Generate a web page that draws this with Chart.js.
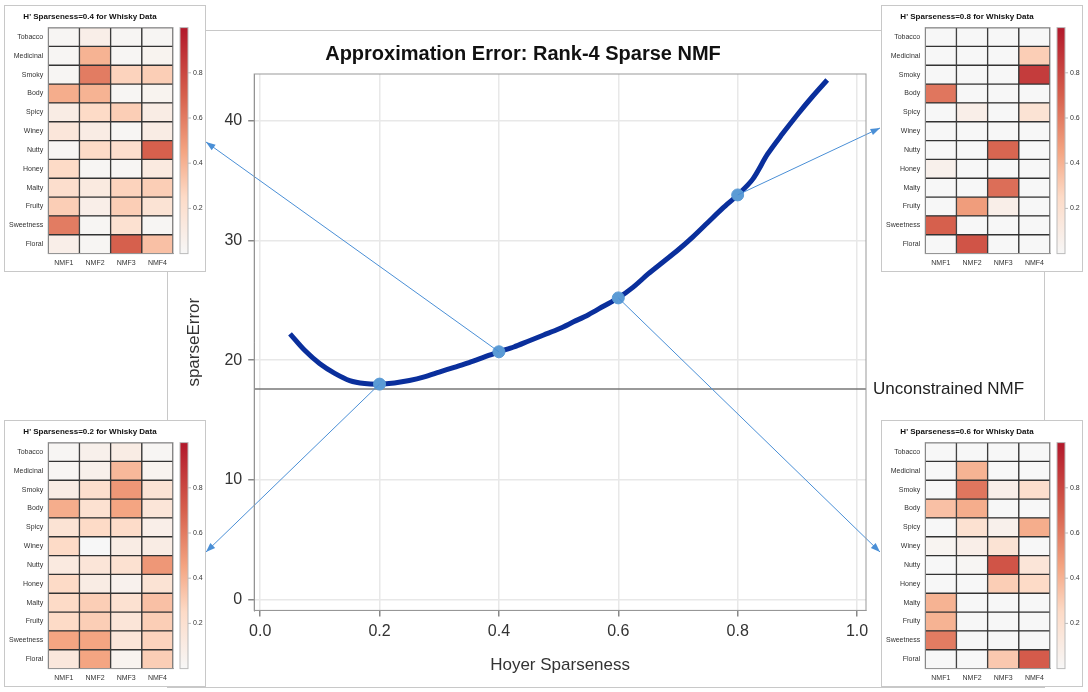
<!DOCTYPE html>
<html>
<head>
<meta charset="utf-8">
<script src="https://cdn.jsdelivr.net/npm/chart.js@4.4.1/dist/chart.umd.min.js"></script>
<style>
  body { margin: 0; background: #fff; font-family: "Liberation Sans", Arial, sans-serif; }
  #wrap { position: relative; width: 1088px; height: 692px; }
  #frame { position: absolute; left: 167px; top: 30px; width: 876px; height: 656px; border: 1px solid #c8c8c8; }
  #main { position: absolute; left: 0; top: 0; }
  .hm { position: absolute; width: 200px; height: 265px; border: 1px solid #c8c8c8; background: #fff; }
</style>
</head>
<body>
<div id="wrap">
  <div id="frame"></div>
  <canvas id="main" width="1088" height="692"></canvas>
  <div class="hm" style="left:4px;top:5px"><canvas id="hm04" width="200" height="265"></canvas></div>
  <div class="hm" style="left:881px;top:5px"><canvas id="hm08" width="200" height="265"></canvas></div>
  <div class="hm" style="left:4px;top:420px"><canvas id="hm02" width="200" height="265"></canvas></div>
  <div class="hm" style="left:881px;top:420px"><canvas id="hm06" width="200" height="265"></canvas></div>
</div>
<script>
const sparseness = [0.05, 0.075, 0.1, 0.125, 0.15, 0.175, 0.2, 0.225, 0.25, 0.275, 0.3, 0.325, 0.35, 0.375, 0.4,
  0.425, 0.45, 0.475, 0.5, 0.525, 0.55, 0.575, 0.6, 0.625, 0.65, 0.675, 0.7, 0.725, 0.75, 0.775, 0.8, 0.825, 0.85, 0.875, 0.9, 0.925, 0.95];
const sparseError = [22.2, 20.8, 19.7, 18.9, 18.3, 18.05, 18.0, 18.1, 18.3, 18.6, 19.0, 19.4, 19.8, 20.25, 20.7,
  21.1, 21.6, 22.1, 22.6, 23.2, 23.8, 24.5, 25.2, 26.1, 27.2, 28.2, 29.2, 30.3, 31.5, 32.7, 33.8, 35.1, 37.2, 38.9, 40.5, 42.0, 43.4];
const markedX = [0.2, 0.4, 0.6, 0.8];
const markedY = [18.0, 20.7, 25.2, 33.8];
const unconstrained = 17.6;
const xTicks = [0, 0.2, 0.4, 0.6, 0.8, 1.0];
const yTicks = [0, 10, 20, 30, 40];

const flavours = ["Tobacco", "Medicinal", "Smoky", "Body", "Spicy", "Winey", "Nutty", "Honey", "Malty", "Fruity", "Sweetness", "Floral"];
const factors = ["NMF1", "NMF2", "NMF3", "NMF4"];
const colorTicks = [0.2, 0.4, 0.6, 0.8];

const h02 = [
  [.02, .06, .10, .02], [.02, .06, .38, .04], [.10, .22, .50, .18], [.42, .20, .45, .16],
  [.18, .25, .24, .08], [.25, .00, .10, .10], [.12, .16, .20, .50], [.25, .10, .05, .18],
  [.25, .30, .20, .35], [.25, .30, .16, .30], [.45, .45, .16, .28], [.14, .45, .04, .30]];
const h04 = [
  [.02, .08, .02, .02], [.02, .40, .02, .04], [.02, .60, .28, .30], [.42, .40, .02, .04],
  [.10, .25, .30, .10], [.15, .10, .02, .10], [.02, .25, .22, .70], [.25, .02, .02, .12],
  [.22, .12, .28, .30], [.30, .08, .30, .18], [.60, .02, .20, .02], [.08, .02, .70, .35]];
const h06 = [
  [0, 0, 0, 0], [0, .40, 0, 0], [0, .62, .08, .22], [.35, .42, 0, 0],
  [0, .20, .06, .42], [.03, .08, .18, 0], [0, .02, .75, .16], [0, 0, .30, .25],
  [.40, 0, 0, 0], [.40, 0, 0, 0], [.60, 0, 0, 0], [0, 0, .32, .72]];
const h08 = [
  [0, 0, 0, 0], [0, 0, 0, .30], [0, 0, 0, .85], [.62, 0, 0, 0],
  [0, .08, 0, .18], [0, 0, 0, 0], [0, 0, .68, 0], [.06, 0, 0, 0],
  [0, 0, .65, 0], [0, .48, .08, 0], [.70, 0, 0, 0], [0, .75, 0, 0]];

const font = "'Liberation Sans', Arial, sans-serif";
const stops = [[0, [247, 247, 247]], [0.25, [253, 219, 199]], [0.45, [244, 165, 130]], [0.7, [214, 96, 77]], [1, [178, 24, 43]]];
function heatColor(v) {
  for (let i = 1; i < stops.length; i++) {
    if (v <= stops[i][0]) {
      const a = stops[i - 1], b = stops[i];
      const t = (v - a[0]) / (b[0] - a[0]);
      const c = a[1].map((x, k) => Math.round(x + (b[1][k] - x) * t));
      return `rgb(${c[0]},${c[1]},${c[2]})`;
    }
  }
  return "rgb(178,24,43)";
}

// plot frame around each chart area
const framePlugin = {
  id: "frame",
  afterDraw(chart) {
    const a = chart.chartArea, ctx = chart.ctx;
    ctx.save(); ctx.strokeStyle = "#999"; ctx.lineWidth = 1;
    ctx.strokeRect(a.left, a.top, a.right - a.left, a.bottom - a.top);
    ctx.restore();
  }
};
Chart.register(framePlugin);

// arrows from marked points to the insets
const targets = [[206, 552], [206, 142], [880, 552], [880, 128]];
const arrowPlugin = {
  id: "arrows",
  afterDatasetsDraw(chart) {
    const ctx = chart.ctx, xs = chart.scales.x, ys = chart.scales.y;
    ctx.save();
    ctx.strokeStyle = "#4a8fd6";
    ctx.fillStyle = "#4a8fd6";
    ctx.lineWidth = 1;
    markedX.forEach((mx, i) => {
      const x0 = xs.getPixelForValue(mx), y0 = ys.getPixelForValue(markedY[i]);
      const [x1, y1] = targets[i];
      ctx.beginPath(); ctx.moveTo(x0, y0); ctx.lineTo(x1, y1); ctx.stroke();
      const ang = Math.atan2(y1 - y0, x1 - x0);
      ctx.beginPath();
      ctx.moveTo(x1, y1);
      ctx.lineTo(x1 - 10 * Math.cos(ang - 0.35), y1 - 10 * Math.sin(ang - 0.35));
      ctx.lineTo(x1 - 10 * Math.cos(ang + 0.35), y1 - 10 * Math.sin(ang + 0.35));
      ctx.closePath(); ctx.fill();
    });
    ctx.fillStyle = "#222";
    ctx.font = "17px " + font;
    ctx.textBaseline = "middle";
    ctx.fillText("Unconstrained NMF", 873, ys.getPixelForValue(unconstrained));
    ctx.restore();
  }
};

new Chart(document.getElementById("main"), {
  type: "scatter",
  data: {
    datasets: [
      {
        data: markedX.map((x, i) => ({ x: x, y: markedY[i] })),
        pointRadius: 6, pointBackgroundColor: "#5b9bd5", pointBorderColor: "#5b9bd5", showLine: false
      },
      {
        data: sparseness.map((x, i) => ({ x: x, y: sparseError[i] })),
        showLine: true, borderColor: "#0a2f9c", borderWidth: 5, pointRadius: 0, tension: 0.3
      },
      {
        data: [{ x: -0.01, y: unconstrained }, { x: 1.015, y: unconstrained }],
        showLine: true, borderColor: "#777", borderWidth: 1.5, pointRadius: 0
      }
    ]
  },
  plugins: [arrowPlugin],
  options: {
    responsive: false, animation: false,
    layout: { padding: { left: 180, right: 222, top: 10, bottom: 12 } },
    plugins: {
      legend: { display: false }, tooltip: { enabled: false },
      title: { display: true, text: "Approximation Error: Rank-4 Sparse NMF", color: "#111",
        font: { family: font, size: 20, weight: "bold" }, padding: { top: 32, bottom: 8 } }
    },
    scales: {
      x: {
        min: -0.01, max: 1.015,
        afterBuildTicks: s => { s.ticks = xTicks.map(v => ({ value: v })); },
        ticks: { callback: v => v.toFixed(1), color: "#333", font: { family: font, size: 16 }, padding: 6 },
        grid: { color: "#e8e8e8", lineWidth: 1.5, tickLength: 6, tickColor: "#888" },
        border: { color: "#888" },
        title: { display: true, text: "Hoyer Sparseness", color: "#333", font: { family: font, size: 17 }, padding: { top: 8 } }
      },
      y: {
        min: -0.9, max: 43.9,
        afterBuildTicks: s => { s.ticks = yTicks.map(v => ({ value: v })); },
        ticks: { color: "#333", font: { family: font, size: 16 }, padding: 6 },
        grid: { color: "#e8e8e8", lineWidth: 1.5, tickLength: 6, tickColor: "#888" },
        border: { color: "#888" },
        title: { display: true, text: "sparseError", color: "#333", font: { family: font, size: 17 }, padding: { bottom: 14 } }
      }
    }
  }
});

const colorbarPlugin = {
  id: "colorbar",
  afterDraw(chart) {
    const a = chart.chartArea, ctx = chart.ctx;
    const x = a.right + 7, w = 8, top = a.top, bot = a.bottom;
    ctx.save();
    const g = ctx.createLinearGradient(0, bot, 0, top);
    stops.forEach(s => g.addColorStop(s[0], `rgb(${s[1].join(",")})`));
    ctx.fillStyle = g; ctx.fillRect(x, top, w, bot - top);
    ctx.strokeStyle = "#bbb"; ctx.strokeRect(x, top, w, bot - top);
    ctx.fillStyle = "#333"; ctx.font = "7px " + font; ctx.textBaseline = "middle";
    colorTicks.forEach(t => {
      const y = bot - t * (bot - top);
      ctx.beginPath(); ctx.moveTo(x + w, y); ctx.lineTo(x + w + 3, y); ctx.stroke();
      ctx.fillText(t.toFixed(1), x + w + 5, y);
    });
    ctx.restore();
  }
};

function heatmap(id, matrix, label) {
  const rows = flavours.map((f, i) => i).reverse();
  new Chart(document.getElementById(id), {
    type: "bar",
    data: {
      labels: factors,
      datasets: rows.map(r => ({
        label: flavours[r],
        data: factors.map(() => 1),
        backgroundColor: matrix[r].map(heatColor),
        borderColor: "#333", borderWidth: 1, borderSkipped: false,
        barPercentage: 1, categoryPercentage: 1
      }))
    },
    plugins: [colorbarPlugin],
    options: {
      responsive: false, animation: false,
      layout: { padding: { right: 32, top: 0, left: 2, bottom: 2 } },
      plugins: {
        legend: { display: false }, tooltip: { enabled: false },
        title: { display: true, text: "H' Sparseness=" + label + " for Whisky Data", color: "#111",
          font: { family: font, size: 8, weight: "bold" }, padding: { top: 6, bottom: 6 } }
      },
      scales: {
        x: {
          stacked: true,
          ticks: { color: "#333", font: { family: font, size: 7 }, padding: 2 },
          grid: { display: false, tickLength: 3 }, border: { color: "#aaa" }
        },
        y: {
          stacked: true, min: 0, max: 12,
          afterBuildTicks: s => { s.ticks = flavours.map((f, i) => ({ value: 11.5 - i })); },
          ticks: { callback: (v, i) => flavours[i], color: "#333", font: { family: font, size: 7 }, padding: 2, autoSkip: false },
          grid: { display: false, tickLength: 3 }, border: { color: "#aaa" }
        }
      }
    }
  });
}
heatmap("hm04", h04, "0.4");
heatmap("hm08", h08, "0.8");
heatmap("hm02", h02, "0.2");
heatmap("hm06", h06, "0.6");
</script>
</body>
</html>
